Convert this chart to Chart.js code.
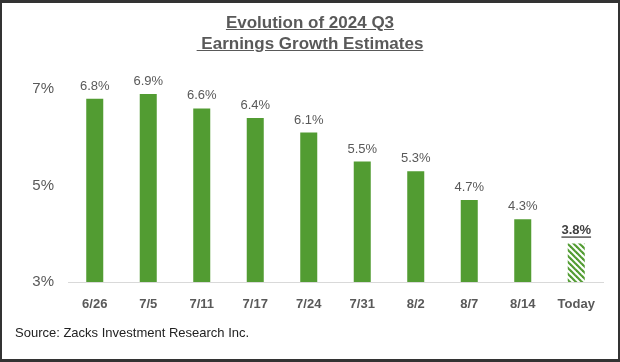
<!DOCTYPE html>
<html><head><meta charset="utf-8">
<script src="https://cdn.jsdelivr.net/npm/chart.js@4/dist/chart.umd.min.js"></script>
<style>
html,body{margin:0;padding:0;background:#fff;}
#wrap{position:relative;width:620px;height:362px;overflow:hidden;font-family:"Liberation Sans",Arial,sans-serif;}
#frame{position:absolute;left:0;top:0;width:620px;height:362px;box-sizing:border-box;border-style:solid;border-color:#333;border-width:3px 2px 3px 2px;pointer-events:none;z-index:3;}
#title{position:absolute;left:0;width:620px;top:12px;text-align:center;font-weight:bold;font-size:17px;line-height:21px;color:#595959;z-index:2;}
#title span{text-decoration:underline;white-space:pre;}
#source{position:absolute;left:15px;top:325px;font-size:13px;color:#222;z-index:2;}
canvas{position:absolute;left:0;top:0;}
</style></head>
<body>
<div id="wrap">
<div id="title"><span>Evolution of 2024 Q3</span><br><span> Earnings Growth Estimates</span></div>
<canvas id="c" width="620" height="362"></canvas>
<div id="source">Source: Zacks Investment Research Inc.</div>
<div id="frame"></div>
</div>
<script>
const categories = ["6/26","7/5","7/11","7/17","7/24","7/31","8/2","8/7","8/14","Today"];
const values = [6.8, 6.9, 6.6, 6.4, 6.1, 5.5, 5.3, 4.7, 4.3, 3.8];
const yTicks = [3, 5, 7];

const GREEN = '#529c32';
function hatch(){
  const s = 6, cv = document.createElement('canvas');
  cv.width = s; cv.height = s;
  const g = cv.getContext('2d');
  g.fillStyle = '#fff'; g.fillRect(0,0,s,s);
  g.strokeStyle = GREEN; g.lineWidth = 2.2;
  for (const k of [-s, 0, s]) {
    g.beginPath(); g.moveTo(k-1, -1); g.lineTo(k+s+1, s+1); g.stroke();
  }
  return g.createPattern(cv, 'repeat');
}
const ctx0 = document.getElementById('c').getContext('2d');
const pat = hatch();
const colors = values.map((v,i)=> i === values.length-1 ? pat : GREEN);

const labelPlugin = {
  id:'labels',
  afterDatasetsDraw(chart){
    const ctx = chart.ctx;
    const meta = chart.getDatasetMeta(0);
    meta.data.forEach((el,i)=>{
      const last = i === values.length-1;
      const txt = values[i].toFixed(1) + '%';
      ctx.save();
      ctx.font = (last ? 'bold ' : '') + '13px "Liberation Sans", Arial, sans-serif';
      ctx.fillStyle = last ? '#404040' : '#595959';
      ctx.textAlign = 'center';
      ctx.textBaseline = 'alphabetic';
      const y = el.y - 9;
      ctx.fillText(txt, el.x, y);
      if (last) {
        const w = ctx.measureText(txt).width;
        ctx.fillRect(el.x - w/2, y + 2, w, 1.3);
      }
      ctx.restore();
    });
  }
};

new Chart(ctx0, {
  type:'bar',
  data:{labels:categories, datasets:[{data:values, backgroundColor:colors, borderWidth:0, categoryPercentage:1, barPercentage:0.318}]},
  options:{
    responsive:false, animation:false,
    layout:{padding:{left:20, right:17, top:41, bottom:50}},
    plugins:{legend:{display:false}, tooltip:{enabled:false}, title:{display:false}},
    scales:{
      x:{
        grid:{display:false},
        border:{display:true, color:'#d9d9d9', width:1},
        ticks:{color:'#595959', font:{family:'"Liberation Sans", Arial, sans-serif', size:13, weight:'bold'}, padding:7, maxRotation:0},
        afterFit(s){ s.height = 30; }
      },
      y:{
        min:3, max:8,
        grid:{display:false},
        border:{display:false},
        afterBuildTicks(s){ s.ticks = yTicks.map(v=>({value:v})); },
        ticks:{color:'#595959', font:{family:'"Liberation Sans", Arial, sans-serif', size:15}, padding:6, callback:v=>v+'%'},
        afterFit(s){ s.width = 48; }
      }
    }
  },
  plugins:[labelPlugin]
});
</script>
</body></html>
